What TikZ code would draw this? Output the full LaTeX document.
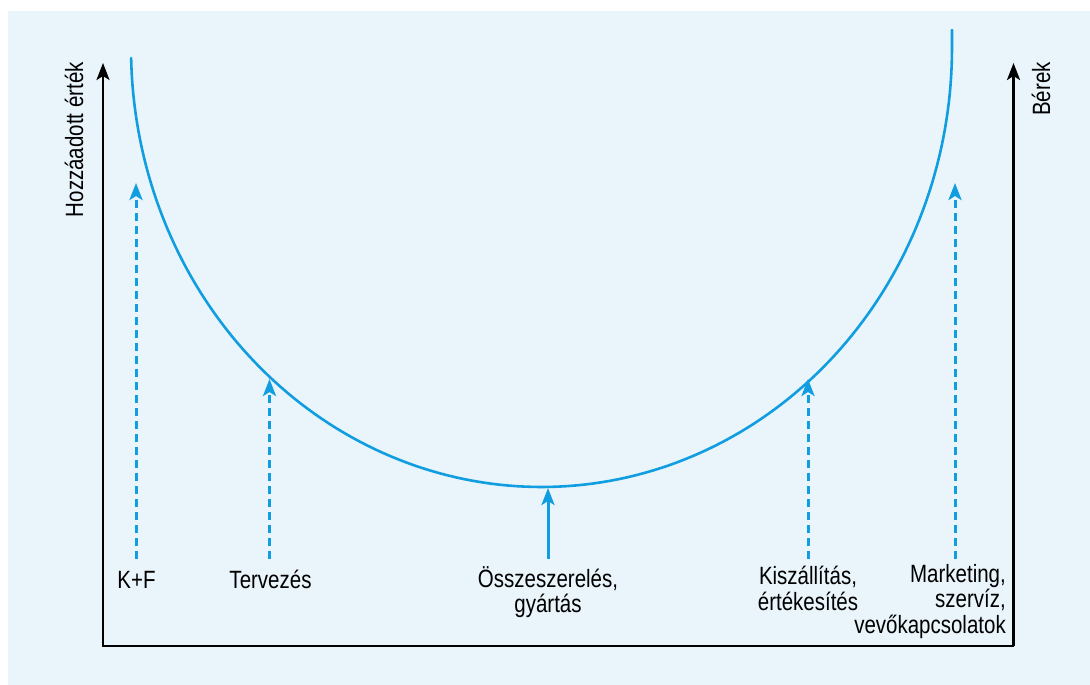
\documentclass[tikz,border=0pt]{standalone}
\usepackage{fontspec}
\setmainfont{Liberation Sans}[FakeStretch=0.82]
\usetikzlibrary{arrows.meta}
\definecolor{bgblue}{RGB}{234,244,251}
\definecolor{curveblue}{RGB}{16,158,224}
\tikzset{
  axisline/.style={line width=2.5pt, black, -{Stealth[length=17pt,width=13pt,inset=4pt]}},
  bluearrow/.style={line width=3pt, curveblue, -{Stealth[length=17pt,width=13pt,inset=4pt]}},
  bluedash/.style={bluearrow, dash pattern=on 8pt off 5pt},
  lbl/.style={inner sep=0pt, align=center, font=\fontsize{25}{25.5}\selectfont},
  axlbl/.style={inner sep=0pt, rotate=90, anchor=base east, font=\fontsize{25}{25}\selectfont}
}
\begin{document}
\begin{tikzpicture}[x=1pt,y=-1pt]
\useasboundingbox (0,0) rectangle (1090,685);
\fill[bgblue] (8,11) rectangle (1090,685);

% axes
\coordinate (origin) at (103,646);
\coordinate (ytop) at (103,63);
\coordinate (rbottom) at (1013.5,646);
\coordinate (rtop) at (1013.5,63);
\draw[axisline] (rbottom) -- (origin) -- (ytop);
\draw[axisline] (rbottom) -- (rtop);
\node[axlbl] (yl) at (83,62) {Hozzáadott érték};
\node[axlbl] (rl) at (1050,62) {Bérek};

% curve
\draw[curveblue, line width=2.6pt, line cap=round]
  plot[domain=178.7:0, samples=150] ({541.5+410.5*cos(\x)}, {48+439*sin(\x)}) -- (952,30);

% arrow tips and feet
\coordinate (kfTop) at (136,183);
\coordinate (kfBot) at (136,559);
\coordinate (tvTop) at (269.5,379);
\coordinate (tvBot) at (269.5,559);
\coordinate (osTop) at (548,488);
\coordinate (osBot) at (548,559);
\coordinate (kiTop) at (808,379);
\coordinate (kiBot) at (808,559);
\coordinate (mkTop) at (955,183);
\coordinate (mkBot) at (955,559);

\draw[bluedash] (kfBot) -- (kfTop);
\draw[bluedash] (tvBot) -- (tvTop);
\draw[bluearrow] (osBot) -- (osTop);
\draw[bluedash] (kiBot) -- (kiTop);
\draw[bluedash] (mkBot) -- (mkTop);

% labels
\node[lbl, anchor=base] (kf) at (136.5,588) {K+F};
\node[lbl, anchor=base] (tv) at (270.5,588) {Tervezés};
\node[lbl, anchor=north] (os) at (548,566) {Összeszerelés,\\gyártás};
\node[lbl, anchor=north] (ki) at (808,566) {Kiszállítás,\\értékesítés};
\node[lbl, anchor=north east, align=right] (mk) at (1006,564) {Marketing,\\szervíz,\\vevőkapcsolatok};
\end{tikzpicture}
\end{document}
